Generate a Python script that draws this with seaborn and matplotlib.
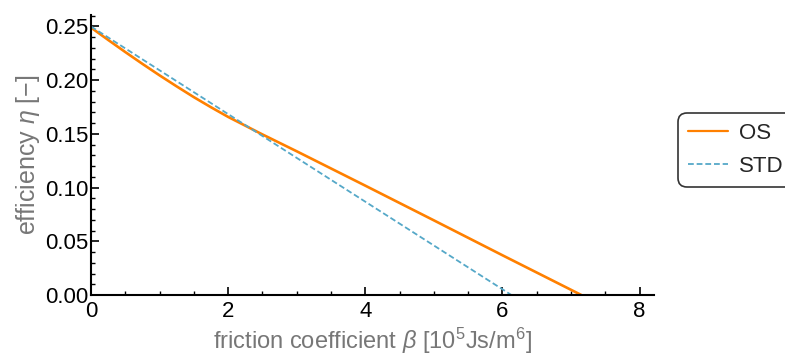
import numpy as np
import pandas as pd
import matplotlib
matplotlib.use("Agg")
import matplotlib.pyplot as plt
import seaborn as sns
from matplotlib.ticker import MultipleLocator
from matplotlib.lines import Line2D

# Data
os_x = [0.0, 0.25, 0.5, 0.75, 1.0, 1.25, 1.5, 1.75, 2.0, 2.5, 3.0, 4.0, 5.0, 6.0, 7.15]
os_y = [0.249, 0.2375, 0.2262, 0.2152, 0.2045, 0.1942, 0.1842, 0.1748, 0.1658,
        0.1495, 0.1338, 0.1018, 0.0695, 0.037, 0.0]
std_x = [0.0, 6.13]
std_y = [0.25, 0.0]
series_names = ["OS", "STD"]
x_ticks = [0, 2, 4, 6, 8]
y_ticks = [0.00, 0.05, 0.10, 0.15, 0.20, 0.25]

df = pd.concat([
    pd.DataFrame({"beta": os_x, "eta": os_y, "series": series_names[0]}),
    pd.DataFrame({"beta": std_x, "eta": std_y, "series": series_names[1]}),
])

sns.set_theme(style="ticks")
plt.rcParams["font.family"] = ["Liberation Sans", "DejaVu Sans"]
plt.rcParams["mathtext.fontset"] = "custom"
plt.rcParams["mathtext.rm"] = "Liberation Sans"
plt.rcParams["mathtext.it"] = "Liberation Sans:italic"

fig = plt.figure(figsize=(7.85, 3.58), dpi=100)
ax = fig.add_axes([91/785, 1-295/358, (654-91)/785, (295-15)/358])

palette = {"OS": "#FF8000", "STD": "#55A8C8"}
sns.lineplot(data=df, x="beta", y="eta", hue="series", style="series",
             palette=palette, dashes={"OS": "", "STD": (3.2, 1.6)},
             linewidth=1.7, ax=ax, legend=False, sort=False)
ax.get_lines()[0].set_linewidth(1.9)
ax.get_lines()[1].set_linewidth(1.3)

ax.set_xlim(0, 8.21)
ax.set_ylim(0, 0.2607)
ax.set_xticks(x_ticks)
ax.set_xticklabels([str(t) for t in x_ticks])
ax.set_yticks(y_ticks)
ax.set_yticklabels([f"{t:.2f}" for t in y_ticks])
ax.xaxis.set_minor_locator(MultipleLocator(0.5))
ax.yaxis.set_minor_locator(MultipleLocator(0.01))
ax.tick_params(which="major", direction="in", length=6, width=1.2, color="black",
               labelsize=16, labelcolor="black", pad=2)
ax.tick_params(axis="x", which="major", pad=4)
ax.tick_params(which="minor", direction="in", length=3, width=1.0, color="black")
for s in ["top", "right"]:
    ax.spines[s].set_visible(False)
for s in ["left", "bottom"]:
    ax.spines[s].set_linewidth(1.5)
    ax.spines[s].set_color("black")

ax.set_xlabel(r"friction coefficient $\it{\beta}$ [10$^{5}$Js/m$^{6}$]",
              fontsize=17, color="#777777", labelpad=3)
ax.set_ylabel(r"efficiency $\it{\eta}$ [$-$]", fontsize=18, color="#777777", labelpad=2)

handles = [Line2D([], [], color="#FF8000", lw=1.6),
           Line2D([], [], color="#55A8C8", lw=1.3, dashes=(3.2, 1.6))]
leg = fig.legend(handles, series_names, loc="upper left",
                 bbox_to_anchor=(678/785, 1-113/358), frameon=True,
                 fontsize=16, handlelength=1.8, handletextpad=0.5,
                 borderpad=0.45, labelspacing=0.55, borderaxespad=0, fancybox=True)
leg.get_frame().set_edgecolor("black")
leg.get_frame().set_linewidth(1.2)
leg.get_frame().set_boxstyle("round,pad=0,rounding_size=0.4")

fig.savefig("out.png", dpi=100)
